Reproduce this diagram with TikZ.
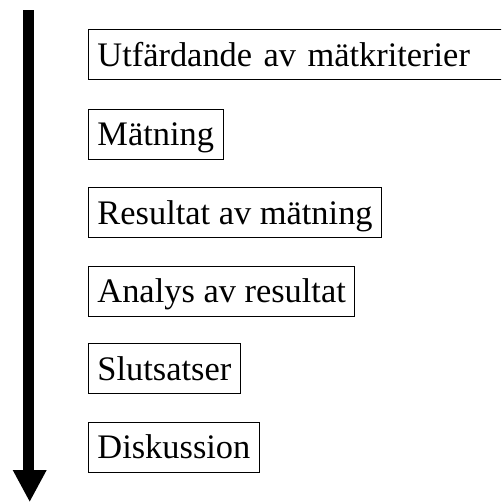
\documentclass[tikz,border=0pt]{standalone}
\usepackage{fontspec}
\setmainfont{Liberation Serif}
\begin{document}
\begin{tikzpicture}[x=1pt,y=-1pt,
  stepbox/.style={draw=black, line width=0.9pt, anchor=north west,
    font=\fontsize{34.4pt}{40pt}\selectfont,
    minimum height=50pt, inner xsep=9pt, inner ysep=0pt,
    text height=26pt, text depth=3.2pt}]
  \useasboundingbox (0,0) rectangle (501,502);
  \clip (0,0) rectangle (501,502);
  \fill[white] (0,0) rectangle (501,502);
  % time axis: thick shaft with a triangular head
  \coordinate (top) at (28.5,10);
  \coordinate (tip) at (29.7,501.5);
  \fill[black] (23,10) rectangle (34,471);
  \fill[black] (12.7,470) -- (46.7,470) -- (tip) -- cycle;
  % process steps
  \node[stepbox, text width=410pt, align=left] (s1) at (88,29.3) {Utfärdande av mätkriterier};
  \node[stepbox] (s2) at (88,109) {Mätning};
  \node[stepbox] (s3) at (88,187.3) {Resultat av mätning};
  \node[stepbox] (s4) at (88,265.7) {Analys av resultat};
  \node[stepbox] (s5) at (88,343.3) {Slutsatser};
  \node[stepbox] (s6) at (88,421.7) {Diskussion};
\end{tikzpicture}
\end{document}
